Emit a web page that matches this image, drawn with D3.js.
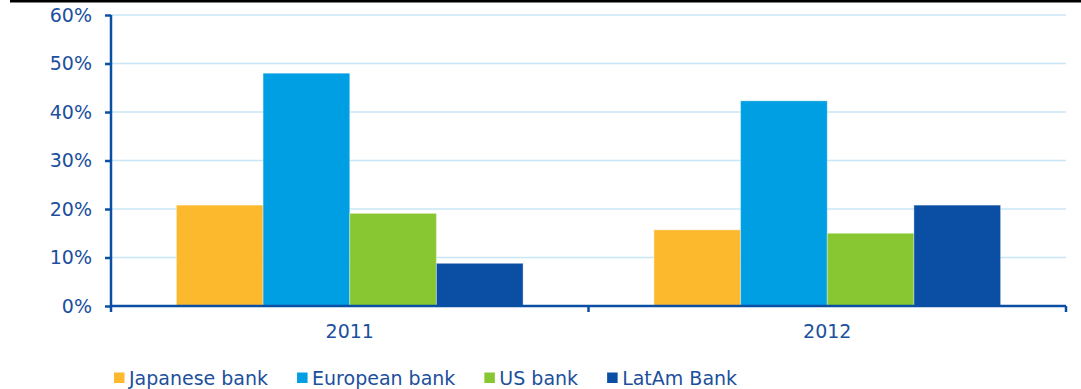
<!DOCTYPE html>
<html>
<head>
<meta charset="utf-8">
<script src="https://cdn.jsdelivr.net/npm/d3@7"></script>
<style>
  html, body { margin: 0; padding: 0; background: #fff; }
  svg { display: block; }
  text { font-family: "DejaVu Sans", Verdana, sans-serif; }
</style>
</head>
<body>
<svg id="chart" width="1081" height="389"></svg>
<script>
// Share of bank type, by year (%)
const years = ["2011", "2012"];
const seriesNames = ["Japanese bank", "European bank", "US bank", "LatAm Bank"];
const japanese = [20.8, 15.7];
const european = [48.0, 42.3];
const us = [19.1, 15.0];
const latam = [8.8, 20.8];
const yTicks = [0, 10, 20, 30, 40, 50, 60];

const seriesValues = [japanese, european, us, latam];
const colors = ["#FDB92E", "#009FE3", "#89C732", "#0A4FA3"];
const axisColor = "#0A4FA3";
const textColor = "#1C4F9C";
const gridColor = "#C8E7F5";

const svg = d3.select("#chart");
const plotLeft = 111, plotRight = 1066, plotTop = 15, plotBottom = 306;

// Thin rule across the top of the figure
svg.append("rect").attr("x", 10).attr("y", 0).attr("width", 1071).attr("height", 2.5).attr("fill", "#000");

const y = d3.scaleLinear().domain([0, 60]).range([plotBottom, plotTop]);
const x0 = d3.scaleBand().domain(years).range([plotLeft, plotRight]).paddingInner(0.274).paddingOuter(0.137);
const x1 = d3.scaleBand().domain(seriesNames).range([0, x0.bandwidth()]);

// Gridlines
svg.append("g").selectAll("line").data(yTicks.filter(d => d > 0)).join("line")
  .attr("x1", plotLeft).attr("x2", plotRight)
  .attr("y1", d => y(d)).attr("y2", d => y(d))
  .attr("stroke", gridColor).attr("stroke-width", 1.5);

// Bars
const rows = years.map((yr, i) => ({ year: yr, vals: seriesNames.map((s, j) => ({ s, j, v: seriesValues[j][i] })) }));
svg.append("g").selectAll("g").data(rows).join("g")
  .attr("transform", d => `translate(${x0(d.year)},0)`)
  .selectAll("rect").data(d => d.vals).join("rect")
  .attr("x", d => x1(d.s))
  .attr("y", d => y(d.v))
  .attr("width", x1.bandwidth())
  .attr("height", d => y(0) - y(d.v))
  .attr("fill", d => colors[d.j])
  .attr("stroke", "rgba(255,255,255,0.35)")
  .attr("stroke-width", 1);

// Y axis
const yAxis = d3.axisLeft(y).tickValues(yTicks).tickFormat(d => d + "%").tickSize(6).tickPadding(13);
const gy = svg.append("g").attr("transform", `translate(${plotLeft},0)`).call(yAxis);
gy.select(".domain").attr("stroke", axisColor).attr("stroke-width", 2.5).attr("d", `M0,${plotTop}V${plotBottom + 6}`);
gy.selectAll(".tick line").attr("stroke", axisColor).attr("stroke-width", 2.5);
gy.selectAll(".tick text").attr("fill", textColor).attr("font-size", 19)
  .attr("font-family", "'DejaVu Sans', Verdana, sans-serif");

// X axis: category boundaries carry the ticks
const gx = svg.append("g").attr("transform", `translate(0,${plotBottom})`);
gx.append("path").attr("d", `M${plotLeft},0H${plotRight}`).attr("stroke", axisColor).attr("stroke-width", 2.5).attr("fill", "none");
const boundaries = [plotLeft + x0.step(), plotRight];
gx.selectAll("line.b").data(boundaries).join("line").attr("class", "b")
  .attr("x1", d => d).attr("x2", d => d).attr("y1", 0).attr("y2", 6)
  .attr("stroke", axisColor).attr("stroke-width", 2.5);
gx.selectAll("text").data(years).join("text")
  .attr("x", d => x0(d) + x0.bandwidth() / 2)
  .attr("y", 32)
  .attr("text-anchor", "middle")
  .attr("font-size", 19)
  .attr("fill", textColor)
  .text(d => d);

// Legend
const legend = svg.append("g").attr("transform", "translate(114,0)");
let cx = 0;
seriesNames.forEach((name, i) => {
  const g = legend.append("g").attr("transform", `translate(${cx},0)`);
  g.append("rect").attr("x", 0).attr("y", 372.5).attr("width", 10.5).attr("height", 10.5).attr("fill", colors[i]);
  const t = g.append("text").attr("x", 15).attr("y", 384.5).attr("font-size", 19).attr("fill", textColor).text(name);
  cx += 15 + t.node().getComputedTextLength() + 29;
});
</script>
</body>
</html>
